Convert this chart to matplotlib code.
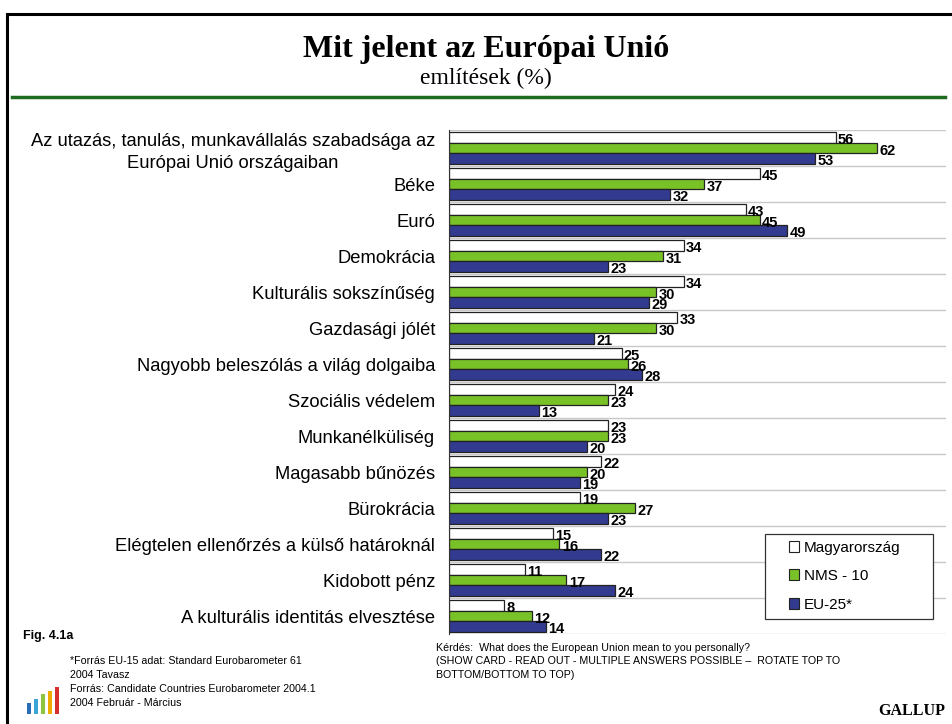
import numpy as np
import matplotlib.pyplot as plt
from matplotlib.patches import Rectangle, Patch
from matplotlib.lines import Line2D

categories = [
    'Az utazás, tanulás, munkavállalás szabadsága az\nEurópai Unió országaiban',
    'Béke', 'Euró', 'Demokrácia', 'Kulturális sokszínűség', 'Gazdasági jólét',
    'Nagyobb beleszólás a világ dolgaiba', 'Szociális védelem', 'Munkanélküliség',
    'Magasabb bűnözés', 'Bürokrácia', 'Elégtelen ellenőrzés a külső határoknál',
    'Kidobott pénz', 'A kulturális identitás elvesztése',
]
series_names = ['Magyarország', 'NMS - 10', 'EU-25*']
hu = [56, 45, 43, 34, 34, 33, 25, 24, 23, 22, 19, 15, 11, 8]
nms = [62, 37, 45, 31, 30, 30, 26, 23, 23, 20, 27, 16, 17, 12]
eu = [53, 32, 49, 23, 29, 21, 28, 13, 20, 19, 23, 22, 24, 14]

colors = ['white', '#78c228', '#333b90']

plt.rcParams['font.family'] = ['Liberation Sans', 'DejaVu Sans']

fig = plt.figure(figsize=(9.52, 7.24), dpi=100)

# frame + title
fig.add_artist(Rectangle((7/952, -0.05), 1.0, 1 - 14/724 + 0.05, transform=fig.transFigure,
                         fill=False, lw=2.2, ec='black'))
fig.text(486/952, 1 - 49/724, 'Mit jelent az Európai Unió', ha='center', va='center',
         fontsize=23, fontweight='bold', family='Liberation Serif')
fig.text(486/952, 1 - 78/724, 'említések (%)', ha='center', va='center',
         fontsize=17, family='Liberation Serif')
fig.add_artist(Line2D([12/952, 945/952], [1 - 97/724] * 2, transform=fig.transFigure,
                      color='#1e6a1e', lw=2.5))

ax = fig.add_axes([449/952, 1 - 634/724, (946 - 449)/952, (634 - 130)/724])
n = len(categories)
y = np.arange(n)
h = 0.29
for k, (vals, c) in enumerate(zip([hu, nms, eu], colors)):
    pos = y + (k - 1) * h
    ax.barh(pos, vals, height=h, color=c, edgecolor='#222222', linewidth=0.9)
    for p, v in zip(pos, vals):
        ax.text(v + 0.35, p + 0.08, str(v), va='center', ha='left',
                fontsize=10.5, fontweight='bold')

ax.set_xlim(0, 72)
ax.set_ylim(n - 0.5, -0.5)
for b in np.arange(-0.5, n, 1.0):
    ax.axhline(b, color='#c8c8c8', lw=1, zorder=0)
ax.set_xticks([])
ax.set_yticks(y)
ax.set_yticklabels(categories, fontsize=13.2, multialignment='center', linespacing=1.35)
ax.tick_params(axis='y', length=0, pad=10)
for s in ['top', 'right', 'bottom']:
    ax.spines[s].set_visible(False)
ax.spines['left'].set_color('#333333')

# legend: frame drawn separately for the wide box
fig.add_artist(Rectangle((765/952, 1 - 619/724), 168/952, 85/724, transform=fig.transFigure,
                         fc='white', ec='#333333', lw=0.9, zorder=5))
handles = [Patch(facecolor=c, edgecolor='#222222', lw=0.8) for c in colors]
leg = fig.legend(handles, series_names, loc='upper left',
                 bbox_to_anchor=(784/952, 1 - 536/724), fontsize=11,
                 frameon=False, handlelength=0.7, handleheight=0.7, handletextpad=0.3,
                 labelspacing=0.95, borderpad=0.3, borderaxespad=0)
leg.set_zorder(6)

# footer
fig.text(23/952, 1 - 636/724, 'Fig. 4.1a', ha='left', va='center', fontsize=9, fontweight='bold')
src = ['*Forrás EU-15 adat: Standard Eurobarometer 61', '2004 Tavasz',
       'Forrás: Candidate Countries Eurobarometer 2004.1', '2004 Február - Március']
for i, t in enumerate(src):
    fig.text(70/952, 1 - (661 + 14 * i)/724, t, ha='left', va='center', fontsize=7.7)
question = ['Kérdés:  What does the European Union mean to you personally?',
            '(SHOW CARD - READ OUT - MULTIPLE ANSWERS POSSIBLE –  ROTATE TOP TO',
            'BOTTOM/BOTTOM TO TOP)']
for i, t in enumerate(question):
    fig.text(436/952, 1 - (648 + 13.5 * i)/724, t, ha='left', va='center', fontsize=7.7)
fig.text(945/952, 1 - 711/724, 'GALLUP', ha='right', va='center', fontsize=11.5,
         fontweight='bold', family='Liberation Serif')

# small eurobarometer logo
lax = fig.add_axes([25/952, 1 - 714/724, 36/952, 30/724])
logo_h = [0.4, 0.55, 0.72, 0.86, 1.0]
logo_c = ['#2a6fb5', '#3aa6d8', '#8dc63f', '#f2a900', '#d62f2f']
lax.bar(range(5), logo_h, width=0.6, color=logo_c)
lax.set_xlim(-0.6, 4.6)
lax.set_ylim(0, 1.1)
lax.axis('off')

fig.savefig('out.png', dpi=100)
